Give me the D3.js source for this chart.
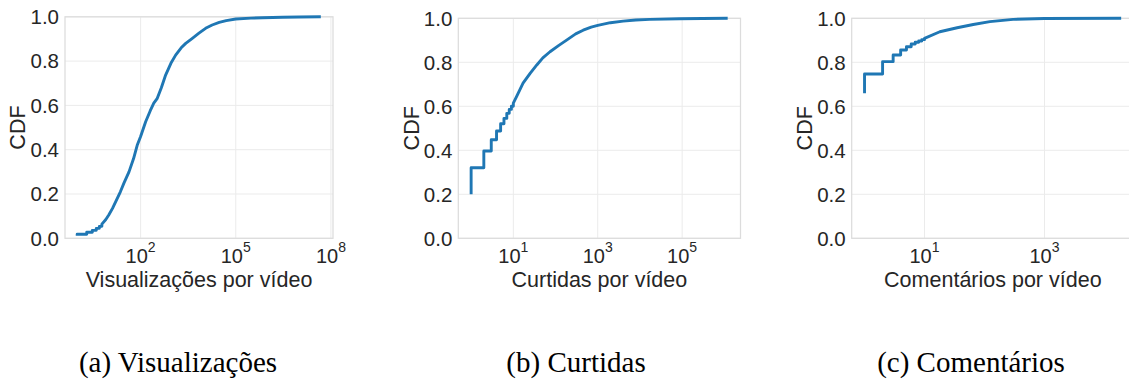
<!DOCTYPE html>
<html>
<head>
<meta charset="utf-8">
<script src="https://cdn.jsdelivr.net/npm/d3@7"></script>
<style>
  html, body { margin: 0; padding: 0; background: #fff; }
  svg { display: block; }
</style>
</head>
<body>
<svg id="chart" width="1129" height="382"></svg>
<script>
// ---------------- data ----------------
const cdfTicks = [0, 0.2, 0.4, 0.6, 0.8, 1.0];

// (a) views per video: discrete steps for small counts, then continuous
const viewsStart = 0.012;
const viewsStepX = [1, 2, 3, 4, 5];
const viewsStepCdf = [0.018, 0.027, 0.036, 0.045, 0.054];
const viewsX = [6, 8, 10, 13, 17, 23, 30, 43, 60, 78, 100, 144, 200, 260, 335, 450, 614, 900, 1270, 1900, 2640, 4270, 6900, 11200, 18000, 30000, 50000, 1e5, 3e5, 7e5, 3e6, 1e7, 4.8e7];
const viewsCdf = [0.064, 0.085, 0.106, 0.135, 0.17, 0.21, 0.25, 0.30, 0.36, 0.42, 0.46, 0.526, 0.575, 0.61, 0.632, 0.68, 0.737, 0.79, 0.827, 0.86, 0.88, 0.903, 0.926, 0.948, 0.963, 0.975, 0.983, 0.99, 0.994, 0.996, 0.998, 0.999, 1.0];
const viewsTicks = [1e2, 1e5, 1e8];

// (b) likes per video
const likesStart = 0.20;
const likesStepX = [1, 2, 3, 4, 5, 6, 7, 8, 9];
const likesStepCdf = [0.321, 0.397, 0.448, 0.488, 0.521, 0.545, 0.568, 0.586, 0.600];
const likesX = [10, 12, 17, 25, 36, 50, 74, 120, 183, 300, 452, 700, 1000, 2000, 4000, 8000, 17000, 87000, 3e5, 1.2e6];
const likesCdf = [0.614, 0.645, 0.705, 0.75, 0.788, 0.82, 0.848, 0.877, 0.901, 0.929, 0.946, 0.960, 0.968, 0.980, 0.987, 0.992, 0.995, 0.998, 0.999, 1.0];
const likesTicks = [1e1, 1e3, 1e5];

// (c) comments per video
const commentsStart = 0.659;
const commentsStepX = [1, 2, 3, 4, 5, 6, 7, 8, 9];
const commentsStepCdf = [0.747, 0.803, 0.833, 0.856, 0.871, 0.883, 0.891, 0.897, 0.903];
const commentsX = [10, 18, 35, 65, 123, 300, 1000, 19000];
const commentsCdf = [0.909, 0.939, 0.957, 0.972, 0.985, 0.995, 0.999, 1.0];
const commentsTicks = [1e1, 1e3];

const xLabels = ["Visualizações por vídeo", "Curtidas por vídeo", "Comentários por vídeo"];
const yLabel = "CDF";
const captions = ["(a) Visualizações", "(b) Curtidas", "(c) Comentários"];

// ---------------- layout ----------------
const panels = [
  { start: viewsStart, stepX: viewsStepX, stepCdf: viewsStepCdf, x: viewsX, cdf: viewsCdf, ticks: viewsTicks,
    left: 65, right: 333, top: 16.8, bottom: 238.3, ylabX: 25, capX: 178 },
  { start: likesStart, stepX: likesStepX, stepCdf: likesStepCdf, x: likesX, cdf: likesCdf, ticks: likesTicks,
    left: 458.3, right: 740.5, top: 18.3, bottom: 238.3, ylabX: 419, capX: 576 },
  { start: commentsStart, stepX: commentsStepX, stepCdf: commentsStepCdf, x: commentsX, cdf: commentsCdf, ticks: commentsTicks,
    left: 851.7, right: 1134, top: 18.3, bottom: 238.3, ylabX: 811.5, capX: 971 }
];

const svg = d3.select("#chart");
const textColor = "#262626";
const gridColor = "#ebebeb";
const frameColor = "#dcdcdc";
const lineColor = "#1f77b4";
const sans = "'Liberation Sans', Arial, sans-serif";
const serif = "'Liberation Serif', 'Times New Roman', serif";

panels.forEach((p, i) => {
  const allX = p.stepX.concat(p.x);
  const lo = Math.log10(d3.min(allX)), hi = Math.log10(d3.max(allX));
  const m = (hi - lo) * 0.05;
  const xs = d3.scaleLog().domain([Math.pow(10, lo - m), Math.pow(10, hi + m)]).range([p.left, p.right]);
  const ys = d3.scaleLinear().domain([0, 1]).range([p.bottom, p.top]);

  const g = svg.append("g");

  // grid
  g.selectAll(".gy").data(cdfTicks).enter().append("line")
    .attr("x1", p.left).attr("x2", p.right)
    .attr("y1", d => ys(d)).attr("y2", d => ys(d))
    .attr("stroke", gridColor).attr("stroke-width", 1);
  g.selectAll(".gx").data(p.ticks).enter().append("line")
    .attr("x1", d => xs(d)).attr("x2", d => xs(d))
    .attr("y1", p.top).attr("y2", p.bottom)
    .attr("stroke", gridColor).attr("stroke-width", 1);

  // frame
  g.append("rect")
    .attr("x", p.left).attr("y", p.top)
    .attr("width", p.right - p.left).attr("height", p.bottom - p.top)
    .attr("fill", "none").attr("stroke", frameColor).attr("stroke-width", 1.25);

  // y tick labels
  g.selectAll(".yt").data(cdfTicks).enter().append("text")
    .attr("x", p.left - 6).attr("y", d => ys(d))
    .attr("dy", "0.36em")
    .attr("text-anchor", "end")
    .attr("font-family", sans).attr("font-size", 20.5).attr("fill", textColor)
    .text(d => d.toFixed(1));

  // x tick labels 10^k
  const xt = g.selectAll(".xt").data(p.ticks).enter().append("text")
    .attr("x", d => xs(d)).attr("y", 263)
    .attr("text-anchor", "middle")
    .attr("font-family", sans).attr("font-size", 20).attr("fill", textColor);
  xt.append("tspan").text("10");
  xt.append("tspan").attr("dy", -11).attr("font-size", 14).text(d => Math.round(Math.log10(d)));

  // axis labels
  g.append("text")
    .attr("x", (p.left + p.right) / 2).attr("y", 287)
    .attr("text-anchor", "middle")
    .attr("font-family", sans).attr("font-size", 21.5).attr("fill", textColor)
    .text(xLabels[i]);
  g.append("text")
    .attr("transform", `translate(${p.ylabX},${(p.top + p.bottom) / 2}) rotate(-90)`)
    .attr("text-anchor", "middle")
    .attr("font-family", sans).attr("font-size", 21.5).attr("fill", textColor)
    .text(yLabel);

  // curve points: discrete jumps then continuous part
  const pts = [];
  let prev = p.start;
  p.stepX.forEach((v, k) => {
    pts.push([v, prev]);
    pts.push([v, p.stepCdf[k]]);
    prev = p.stepCdf[k];
  });
  p.x.forEach((v, k) => {
    if (k === 0) pts.push([v, prev]);
    pts.push([v, p.cdf[k]]);
  });

  const line = d3.line().x(d => xs(d[0])).y(d => ys(d[1]));
  g.append("path")
    .attr("d", line(pts))
    .attr("fill", "none").attr("stroke", lineColor)
    .attr("stroke-width", 2.9).attr("stroke-linejoin", "round");

  // caption
  svg.append("text")
    .attr("x", p.capX).attr("y", 372)
    .attr("text-anchor", "middle")
    .attr("font-family", serif).attr("font-size", 29).attr("fill", "#000")
    .text(captions[i]);
});
</script>
</body>
</html>
